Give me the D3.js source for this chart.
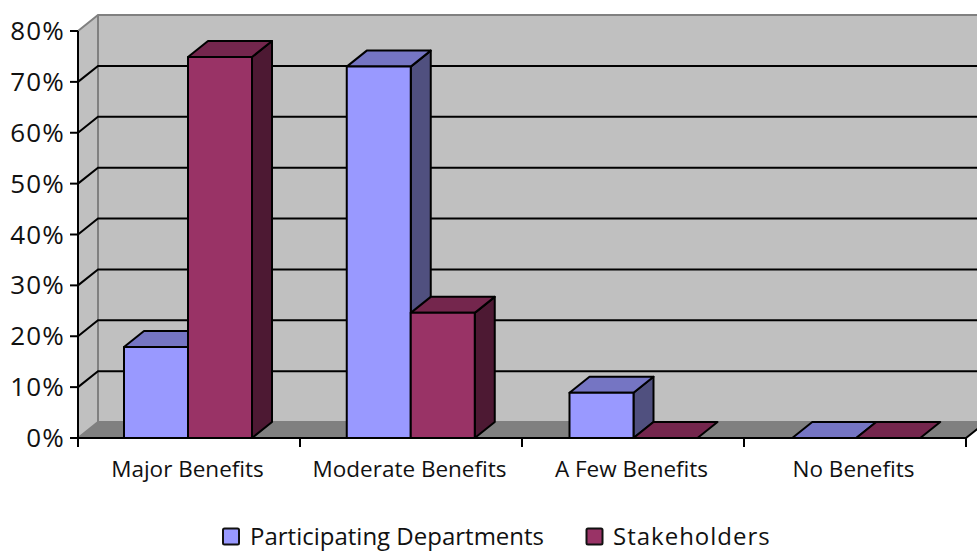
<!DOCTYPE html>
<html><head><meta charset="utf-8">
<script src="https://cdn.jsdelivr.net/npm/d3@7"></script>
<style>html,body{margin:0;padding:0;background:#fff}svg{display:block}text{font-family:"Open Sans",sans-serif;fill:#111}</style>
</head><body><svg id="c" width="977" height="552"></svg>
<script>
const categories = ["Major Benefits","Moderate Benefits","A Few Benefits","No Benefits"];
const seriesNames = ["Participating Departments","Stakeholders"];
const participating = [17.9,73,8.9,0];
const stakeholders = [74.9,24.6,0,0];
const yTicks = [0,10,20,30,40,50,60,70,80];
const seriesValues = [participating, stakeholders];
const frontColors = ["#9999FF","#993366"];
const topColors = ["#7575C3","#74264D"];
const sideColors = ["#50507F","#4D1933"];

const svg = d3.select("#c");
const dx = 20, dy = -16;
const x = d3.scaleBand().domain(categories).range([78,966]);
const xBars = d3.scaleBand().domain(categories).range([78,969]);
const xs = d3.scaleBand().domain(seriesNames).range([46,174]);
const y = d3.scaleLinear().domain([0,80]).range([438,31]);
const pts = a => a.map(p=>p.join(",")).join(" ");
const x0=78,x1=966,y0=y(0),yT=y(80);

svg.append("polygon").attr("points",pts([[x0+dx,yT+dy],[x1+dx,yT+dy],[x1+dx,y0+dy],[x0+dx,y0+dy]])).attr("fill","#C0C0C0");
svg.append("polygon").attr("points",pts([[x0,yT],[x0+dx,yT+dy],[x0+dx,y0+dy],[x0,y0]])).attr("fill","#C0C0C0");
svg.append("polygon").attr("points",pts([[x0,y0],[x0+dx,y0+dy],[x1+dx,y0+dy],[x1,y0]])).attr("fill","#808080");

svg.append("path").attr("d",`M${x0},${yT}L${x0+dx},${yT+dy}L${x1+dx},${yT+dy}M${x0+dx},${yT+dy}V${y0+dy}H${x1+dx}M${x0},${y0}L${x0+dx},${y0+dy}`)
  .attr("fill","none").attr("stroke","#808080").attr("stroke-width",2);

yTicks.filter(t=>t>0&&t<80).forEach(t=>{
  svg.append("path").attr("d",`M${x0},${y(t)}L${x0+dx},${y(t)+dy}H${x1+dx}`)
    .attr("fill","none").attr("stroke","#000").attr("stroke-width",2);
});

svg.append("path").attr("d",`M${x0},${yT}V${y0}H${x1}L${x1+dx},${y0+dy}`).attr("fill","none").attr("stroke","#000").attr("stroke-width",2);
yTicks.forEach(t=>{
  svg.append("line").attr("x1",x0-8).attr("x2",x0).attr("y1",y(t)).attr("y2",y(t)).attr("stroke","#000").attr("stroke-width",2);
  svg.append("text").attr("x",x0-13).attr("y",y(t)+9).attr("text-anchor","end").attr("font-size",26).attr("letter-spacing",1.2).text(t+"%");
});
const bounds=[x0,...categories.map(c=>x(c)+x.bandwidth())];
bounds.forEach(b=>svg.append("line").attr("x1",b).attr("x2",b).attr("y1",y0).attr("y2",y0+9).attr("stroke","#000").attr("stroke-width",2));

categories.forEach((c,ci)=>{
  seriesNames.forEach((s,si)=>{
    const v=seriesValues[si][ci];
    const l=xBars(c)+xs(s), r=l+xs.bandwidth(), t=y(v);
    const g=svg.append("g").attr("stroke","#000").attr("stroke-width",2).attr("stroke-linejoin","round");
    if(v>0) g.append("polygon").attr("points",pts([[r,t],[r+dx,t+dy],[r+dx,y0+dy],[r,y0]])).attr("fill",sideColors[si]);
    g.append("polygon").attr("points",pts([[l,t],[l+dx,t+dy],[r+dx,t+dy],[r,t]])).attr("fill",topColors[si]);
    if(v>0) g.append("rect").attr("x",l).attr("y",t).attr("width",r-l).attr("height",y0-t).attr("fill",frontColors[si]);
  });
  svg.append("text").attr("x",x(c)+x.bandwidth()/2-1.5).attr("y",477).attr("text-anchor","middle").attr("font-size",22.5).text(c);
});

const legendX=[223,586.5];
const legendTextX=[250,613];
const legendSpacing=[0,1];
seriesNames.forEach((s,i)=>{
  svg.append("rect").attr("x",legendX[i]).attr("y",528.5).attr("width",16).attr("height",16).attr("rx",1.5)
    .attr("fill",frontColors[i]).attr("stroke","#111").attr("stroke-width",2);
  svg.append("text").attr("x",legendTextX[i]).attr("y",545).attr("font-size",24).attr("letter-spacing",legendSpacing[i]).text(s);
});
</script></body></html>
